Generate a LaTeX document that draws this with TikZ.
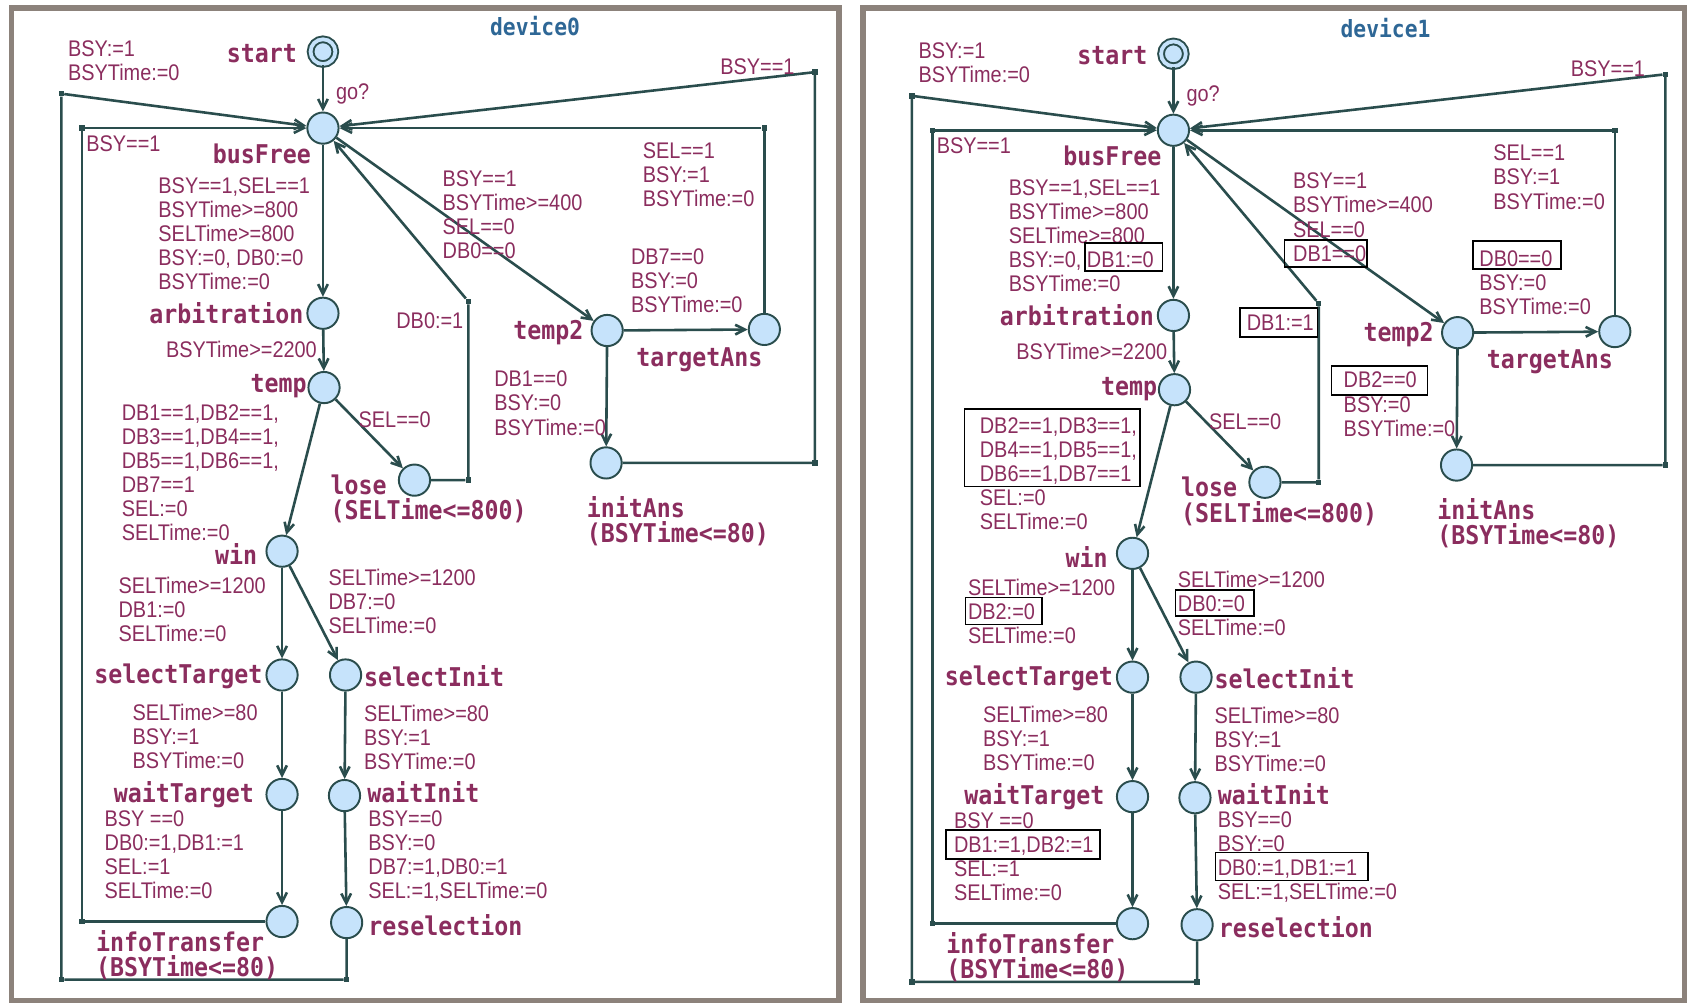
\documentclass[tikz,border=0pt]{standalone}
\usepackage{fontspec}
\setmainfont{Liberation Sans}
\newfontfamily\lblfont{Liberation Sans}[FakeStretch=0.88]
\newfontfamily\locfont{DejaVu Sans Mono}[FakeStretch=0.9]
\usepackage{xcolor}
\usepackage{tikz}
\usetikzlibrary{
    arrows.meta
}
\definecolor{edgecol}{HTML}{2A4D4D}
\definecolor{statefill}{HTML}{C6E3FB}
\definecolor{lblcol}{HTML}{8B2D5E}
\definecolor{titlecol}{HTML}{2E6796}
\definecolor{framecol}{HTML}{8C827B}
\tikzset{
    location/.style={
        circle,
        draw=edgecol,
        line width=1.8pt,
        fill=statefill,
        minimum size=29pt,
        inner sep=0pt
    }
}
\tikzset{
    initloc/.style={
        location,
        double=statefill,
        double distance=3.5pt,
        minimum size=23pt
    }
}
\tikzset{
    nail/.style={
        rectangle,
        fill=edgecol,
        minimum size=5pt,
        inner sep=0pt
    }
}
\tikzset{
    edge/.style={
        draw=edgecol,
        line width=2.4pt,
        -{Straight Barb[length=9pt,width=9pt]}
    }
}
\tikzset{
    guard/.style={
        anchor=north west,
        inner sep=0pt,
        align=left,
        text=lblcol,
        font={\lblfont\fontsize{21pt}{22.4pt}\selectfont}
    }
}
\tikzset{
    locname/.style={
        inner sep=0pt,
        align=left,
        text=lblcol,
        font={\locfont\bfseries\fontsize{24pt}{23.5pt}\selectfont}
    }
}
\tikzset{
    tmplname/.style={
        inner sep=0pt,
        text=titlecol,
        font={\locfont\bfseries\fontsize{22pt}{24pt}\selectfont}
    }
}
\tikzset{
    panel/.style={
        draw=framecol,
        line width=5pt,
        fill=white
    }
}
\tikzset{
    hilite/.style={
        draw=black,
        line width=1.5pt
    }
}

\begin{document}
\begin{tikzpicture}[x=1pt, y=-1pt]

\useasboundingbox (0,0) rectangle (1568,932);
\draw[panel] (10.5,7.5) rectangle (779.5,929.5);
\draw[panel] (801.5,7.5) rectangle (1564.5,929.5);

% device0
\node[tmplname] (titleA) at (497,24) {device0};

\node[initloc] (startA) at (300,48) {};
\node[location] (busFreeA) at (300,119) {};
\node[location] (arbitrationA) at (300,291) {};
\node[location] (tempA) at (301,360) {};
\node[location] (loseA) at (385,446) {};
\node[location] (winA) at (262,512) {};
\node[location] (selectTargetA) at (262,627) {};
\node[location] (selectInitA) at (321,627) {};
\node[location] (waitTargetA) at (262,738) {};
\node[location] (waitInitA) at (320,739) {};
\node[location] (infoTransferA) at (262,856) {};
\node[location] (reselectionA) at (322,857) {};
\node[location] (temp2A) at (564,307) {};
\node[location] (targetAnsA) at (710,306) {};
\node[location] (initAnsA) at (563,430) {};

\node[nail] (nA1) at (57,87) {};
\node[nail] (nA2) at (57,910) {};
\node[nail] (nA3) at (322,910) {};
\node[nail] (nA4) at (76,119) {};
\node[nail] (nA5) at (76,856) {};
\node[nail] (nA6) at (757,67) {};
\node[nail] (nA7) at (757,430) {};
\node[nail] (nA8) at (710,119) {};
\node[nail] (nA9) at (435,280) {};
\node[nail] (nA10) at (435,446) {};

\draw[edge] (startA) -- (busFreeA);
\draw[edge] (busFreeA) -- (arbitrationA);
\draw[edge] (arbitrationA) -- (tempA);
\draw[edge] (tempA) -- (winA);
\draw[edge] (tempA) -- (loseA);
\draw[edge] (loseA) -- (nA10) -- (nA9) -- (busFreeA);
\draw[edge] (busFreeA) -- (temp2A);
\draw[edge] (temp2A) -- (targetAnsA);
\draw[edge] (targetAnsA) -- (nA8) -- (busFreeA);
\draw[edge] (temp2A) -- (initAnsA);
\draw[edge] (initAnsA) -- (nA7) -- (nA6) -- (busFreeA);
\draw[edge] (infoTransferA) -- (nA5) -- (nA4) -- (busFreeA);
\draw[edge] (reselectionA) -- (nA3) -- (nA2) -- (nA1) -- (busFreeA);
\draw[edge] (winA) -- (selectTargetA);
\draw[edge] (winA) -- (selectInitA);
\draw[edge] (selectTargetA) -- (waitTargetA);
\draw[edge] (selectInitA) -- (waitInitA);
\draw[edge] (waitTargetA) -- (infoTransferA);
\draw[edge] (waitInitA) -- (reselectionA);

\node[locname, anchor=east] (startAname) at (276,50) {start};
\node[locname, anchor=east] (busFreeAname) at (289,143) {busFree};
\node[locname, anchor=east] (arbitrationAname) at (282,291) {arbitration};
\node[locname, anchor=east] (tempAname) at (285,359) {temp};
\node[locname, anchor=north west] (loseAname) at (307,441) {lose\\(SELTime<=800)};
\node[locname, anchor=east] (winAname) at (239,515) {win};
\node[locname, anchor=east] (selectTargetAname) at (244,628) {selectTarget};
\node[locname, anchor=west] (selectInitAname) at (338,628) {selectInit};
\node[locname, anchor=east] (waitTargetAname) at (236,738) {waitTarget};
\node[locname, anchor=west] (waitInitAname) at (341,736) {waitInit};
\node[locname, anchor=north west] (infoTransferAname) at (89,864) {infoTransfer\\(BSYTime<=80)};
\node[locname, anchor=west] (reselectionAname) at (342,859) {reselection};
\node[locname, anchor=east] (temp2Aname) at (542,309) {temp2};
\node[locname, anchor=west] (targetAnsAname) at (591,334) {targetAns};
\node[locname, anchor=north west] (initAnsAname) at (545,461) {initAns\\(BSYTime<=80)};

\node[guard] (gA1) at (63,37.5) {BSY:=1\\BSYTime:=0};
\node[guard] (gA2) at (312,77.5) {go?};
\node[guard] (gA3) at (669,54.5) {BSY==1};
\node[guard] (gA4) at (80,125.5) {BSY==1};
\node[guard] (gA5) at (147,164.5) {BSY==1,SEL==1\\BSYTime>=800\\SELTime>=800\\BSY:=0, DB0:=0\\BSYTime:=0};
\node[guard] (gA6) at (411,158.5) {BSY==1\\BSYTime>=400\\SEL==0\\DB0==0};
\node[guard] (gA7) at (597,132.5) {SEL==1\\BSY:=1\\BSYTime:=0};
\node[guard] (gA8) at (586,230.5) {DB7==0\\BSY:=0\\BSYTime:=0};
\node[guard] (gA9) at (368,290.5) {DB0:=1};
\node[guard] (gA10) at (154,316.5) {BSYTime>=2200};
\node[guard] (gA11) at (459,344.5) {DB1==0\\BSY:=0\\BSYTime:=0};
\node[guard] (gA12) at (113,375.5) {DB1==1,DB2==1,\\DB3==1,DB4==1,\\DB5==1,DB6==1,\\DB7==1\\SEL:=0\\SELTime:=0};
\node[guard] (gA13) at (333,382.5) {SEL==0};
\node[guard] (gA14) at (110,535.5) {SELTime>=1200\\DB1:=0\\SELTime:=0};
\node[guard] (gA15) at (305,528.5) {SELTime>=1200\\DB7:=0\\SELTime:=0};
\node[guard] (gA16) at (123,653.5) {SELTime>=80\\BSY:=1\\BSYTime:=0};
\node[guard] (gA17) at (338,654.5) {SELTime>=80\\BSY:=1\\BSYTime:=0};
\node[guard] (gA18) at (97,752.5) {BSY ==0\\DB0:=1,DB1:=1\\SEL:=1\\SELTime:=0};
\node[guard] (gA19) at (342,752.5) {BSY==0\\BSY:=0\\DB7:=1,DB0:=1\\SEL:=1,SELTime:=0};

% device1
\begin{scope}[shift={(790,2)}]
\node[tmplname] (titleB) at (497,24) {device1};

\node[initloc] (startB) at (300,48) {};
\node[location] (busFreeB) at (300,119) {};
\node[location] (arbitrationB) at (300,291) {};
\node[location] (tempB) at (301,360) {};
\node[location] (loseB) at (385,446) {};
\node[location] (winB) at (262,512) {};
\node[location] (selectTargetB) at (262,627) {};
\node[location] (selectInitB) at (321,627) {};
\node[location] (waitTargetB) at (262,738) {};
\node[location] (waitInitB) at (320,739) {};
\node[location] (infoTransferB) at (262,856) {};
\node[location] (reselectionB) at (322,857) {};
\node[location] (temp2B) at (564,307) {};
\node[location] (targetAnsB) at (710,306) {};
\node[location] (initAnsB) at (563,430) {};

\node[nail] (nB1) at (57,87) {};
\node[nail] (nB2) at (57,910) {};
\node[nail] (nB3) at (322,910) {};
\node[nail] (nB4) at (76,119) {};
\node[nail] (nB5) at (76,856) {};
\node[nail] (nB6) at (757,67) {};
\node[nail] (nB7) at (757,430) {};
\node[nail] (nB8) at (710,119) {};
\node[nail] (nB9) at (435,280) {};
\node[nail] (nB10) at (435,446) {};

\draw[edge] (startB) -- (busFreeB);
\draw[edge] (busFreeB) -- (arbitrationB);
\draw[edge] (arbitrationB) -- (tempB);
\draw[edge] (tempB) -- (winB);
\draw[edge] (tempB) -- (loseB);
\draw[edge] (loseB) -- (nB10) -- (nB9) -- (busFreeB);
\draw[edge] (busFreeB) -- (temp2B);
\draw[edge] (temp2B) -- (targetAnsB);
\draw[edge] (targetAnsB) -- (nB8) -- (busFreeB);
\draw[edge] (temp2B) -- (initAnsB);
\draw[edge] (initAnsB) -- (nB7) -- (nB6) -- (busFreeB);
\draw[edge] (infoTransferB) -- (nB5) -- (nB4) -- (busFreeB);
\draw[edge] (reselectionB) -- (nB3) -- (nB2) -- (nB1) -- (busFreeB);
\draw[edge] (winB) -- (selectTargetB);
\draw[edge] (winB) -- (selectInitB);
\draw[edge] (selectTargetB) -- (waitTargetB);
\draw[edge] (selectInitB) -- (waitInitB);
\draw[edge] (waitTargetB) -- (infoTransferB);
\draw[edge] (waitInitB) -- (reselectionB);

\node[locname, anchor=east] (startBname) at (276,50) {start};
\node[locname, anchor=east] (busFreeBname) at (289,143) {busFree};
\node[locname, anchor=east] (arbitrationBname) at (282,291) {arbitration};
\node[locname, anchor=east] (tempBname) at (285,359) {temp};
\node[locname, anchor=north west] (loseBname) at (307,441) {lose\\(SELTime<=800)};
\node[locname, anchor=east] (winBname) at (239,515) {win};
\node[locname, anchor=east] (selectTargetBname) at (244,628) {selectTarget};
\node[locname, anchor=west] (selectInitBname) at (338,628) {selectInit};
\node[locname, anchor=east] (waitTargetBname) at (236,738) {waitTarget};
\node[locname, anchor=west] (waitInitBname) at (341,736) {waitInit};
\node[locname, anchor=north west] (infoTransferBname) at (89,864) {infoTransfer\\(BSYTime<=80)};
\node[locname, anchor=west] (reselectionBname) at (342,859) {reselection};
\node[locname, anchor=east] (temp2Bname) at (542,309) {temp2};
\node[locname, anchor=west] (targetAnsBname) at (591,334) {targetAns};
\node[locname, anchor=north west] (initAnsBname) at (545,461) {initAns\\(BSYTime<=80)};

\node[guard] (gB1) at (63,37.5) {BSY:=1\\BSYTime:=0};
\node[guard] (gB2) at (312,77.5) {go?};
\node[guard] (gB3) at (669,54.5) {BSY==1};
\node[guard] (gB4) at (80,125.5) {BSY==1};
\node[guard] (gB5) at (147,164.5) {BSY==1,SEL==1\\BSYTime>=800\\SELTime>=800\\BSY:=0, DB1:=0\\BSYTime:=0};
\node[guard] (gB6) at (411,158.5) {BSY==1\\BSYTime>=400\\SEL==0\\DB1==0};
\node[guard] (gB7) at (597,132.5) {SEL==1\\BSY:=1\\BSYTime:=0};
\node[guard] (gB8) at (584,230.5) {DB0==0\\BSY:=0\\BSYTime:=0};
\node[guard] (gB9) at (368,290.5) {DB1:=1};
\node[guard] (gB10) at (154,316.5) {BSYTime>=2200};
\node[guard] (gB11) at (458,343.5) {DB2==0\\BSY:=0\\BSYTime:=0};
\node[guard] (gB12) at (120,385.5) {DB2==1,DB3==1,\\DB4==1,DB5==1,\\DB6==1,DB7==1\\SEL:=0\\SELTime:=0};
\node[guard] (gB13) at (333,382.5) {SEL==0};
\node[guard] (gB14) at (109,535.5) {SELTime>=1200\\DB2:=0\\SELTime:=0};
\node[guard] (gB15) at (304,528.5) {SELTime>=1200\\DB0:=0\\SELTime:=0};
\node[guard] (gB16) at (123,653.5) {SELTime>=80\\BSY:=1\\BSYTime:=0};
\node[guard] (gB17) at (338,654.5) {SELTime>=80\\BSY:=1\\BSYTime:=0};
\node[guard] (gB18) at (96,752.5) {BSY ==0\\DB1:=1,DB2:=1\\SEL:=1\\SELTime:=0};
\node[guard] (gB19) at (341,751.5) {BSY==0\\BSY:=0\\DB0:=1,DB1:=1\\SEL:=1,SELTime:=0};

% changed labels
\draw[hilite] (218,224) rectangle (290,250);
\draw[hilite] (403,221) rectangle (480,246);
\draw[hilite] (362,284) rectangle (434,311);
\draw[hilite] (578,222) rectangle (660,248);
\draw[hilite] (447,338) rectangle (536,365);
\draw[hilite] (106,378) rectangle (269,450);
\draw[hilite] (107,553) rectangle (178,578);
\draw[hilite] (302,546) rectangle (375,570);
\draw[hilite] (89,769) rectangle (232,796);
\draw[hilite] (339,790) rectangle (481,816);
\end{scope}

\end{tikzpicture}
\end{document}
